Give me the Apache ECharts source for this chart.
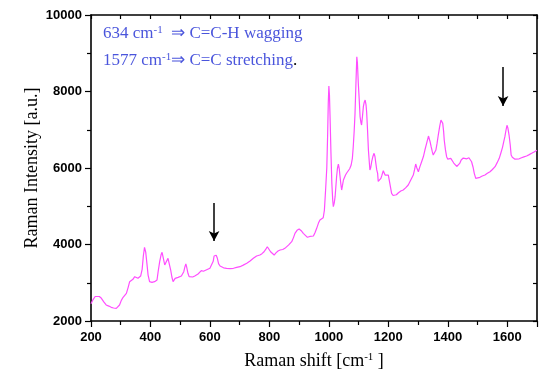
<!DOCTYPE html>
<html>
<head>
<meta charset="utf-8">
<script src="https://cdn.jsdelivr.net/npm/echarts@6/dist/echarts.min.js"></script>
<style>
  html, body { margin: 0; padding: 0; background: #fff; }
  #chart { width: 553px; height: 381px; }
</style>
</head>
<body>
<div id="chart"></div>
<script>
// Raman spectrum: shift (cm-1) and measured intensity (a.u.)
var ramanShift = [
  200, 207, 214, 220, 228, 235, 243, 251, 260, 268, 276, 285, 291, 296, 302, 308, 314, 319, 325, 330,
  336, 341, 347, 352, 358, 363, 367, 372, 376, 380, 384, 388, 392, 397, 405, 414, 422, 426, 431, 436,
  439, 443, 448, 454, 459, 463, 468, 472, 476, 483, 488, 493, 499, 504, 508, 512, 516, 519, 522, 526,
  530, 535, 542, 549, 555, 560, 566, 571, 578, 584, 589, 593, 600, 606, 611, 614, 617, 621, 625, 629,
  634, 640, 646, 656, 662, 668, 679, 685, 690, 701, 712, 724, 735, 746, 757, 768, 775, 782, 788, 793,
  798, 804, 810, 816, 822, 829, 836, 845, 852, 858, 865, 870, 875, 881, 886, 893, 900, 907, 914, 921,
  928, 936, 942, 948, 954, 959, 965, 970, 976, 981, 985, 989, 993, 996, 998, 1000, 1002, 1004, 1007, 1010,
  1013, 1015, 1018, 1021, 1026, 1029, 1032, 1035, 1037, 1040, 1043, 1046, 1049, 1056, 1060, 1065, 1070, 1075, 1079, 1082,
  1085, 1088, 1091, 1094, 1096, 1099, 1102, 1105, 1108, 1110, 1113, 1116, 1119, 1122, 1125, 1127, 1130, 1133, 1136, 1138,
  1141, 1144, 1148, 1152, 1155, 1158, 1161, 1164, 1166, 1169, 1172, 1175, 1178, 1181, 1183, 1186, 1189, 1191, 1195, 1200,
  1205, 1211, 1216, 1220, 1227, 1234, 1242, 1250, 1258, 1267, 1275, 1284, 1288, 1292, 1296, 1301, 1306, 1312, 1318, 1323,
  1329, 1335, 1340, 1344, 1348, 1351, 1356, 1360, 1364, 1368, 1373, 1377, 1380, 1383, 1386, 1388, 1392, 1396, 1400, 1404,
  1410, 1415, 1420, 1424, 1430, 1435, 1440, 1445, 1452, 1458, 1464, 1471, 1476, 1480, 1485, 1489, 1494, 1500, 1508, 1516,
  1525, 1533, 1542, 1550, 1559, 1566, 1573, 1578, 1584, 1588, 1592, 1596, 1599, 1602, 1606, 1610, 1613, 1617, 1620, 1626,
  1632, 1640, 1648, 1656, 1665, 1674, 1682, 1690, 1697, 1700
];
var intensity = [
  2450, 2560, 2640, 2680, 2640, 2593, 2500, 2420, 2390, 2358, 2340, 2332, 2360, 2418, 2540, 2620, 2670, 2724, 2880, 3028,
  3070, 3090, 3158, 3130, 3116, 3150, 3176, 3350, 3700, 3926, 3800, 3508, 3200, 3028, 3010, 3028, 3072, 3300, 3550, 3740,
  3796, 3650, 3464, 3560, 3639, 3500, 3333, 3150, 3028, 3116, 3120, 3142, 3150, 3176, 3220, 3289, 3420, 3490, 3400, 3247,
  3160, 3142, 3150, 3176, 3200, 3229, 3280, 3315, 3300, 3289, 3340, 3330, 3380, 3420, 3560, 3700, 3743, 3720, 3639, 3500,
  3438, 3400, 3390, 3378, 3400, 3370, 3378, 3350, 3400, 3420, 3460, 3508, 3570, 3639, 3700, 3725, 3760, 3811, 3880, 3942,
  3900, 3811, 3760, 3725, 3780, 3830, 3856, 3870, 3900, 3926, 3990, 4020, 4073, 4180, 4292, 4370, 4405, 4360, 4292, 4240,
  4188, 4210, 4215, 4222, 4320, 4423, 4560, 4640, 4660, 4700, 4900, 5424, 6000, 6907, 7700, 8143, 7900, 7340, 6400, 5600,
  5150, 4988, 5080, 5250, 5772, 6000, 6104, 5980, 5816, 5600, 5424, 5550, 5686, 5816, 5870, 5903, 5980, 6078, 6250, 6556,
  6950, 7429, 8200, 8909, 8750, 8213, 7800, 7340, 7180, 7123, 7350, 7602, 7720, 7777, 7650, 7471, 7000, 6470, 6150, 5947,
  6020, 6164, 6300, 6384, 6300, 6122, 5950, 5860, 5650, 5599, 5680, 5730, 5800, 5843, 5929, 5903, 5816, 5772, 5830, 5816,
  5600, 5338, 5280, 5250, 5300, 5354, 5400, 5424, 5480, 5555, 5680, 5816, 5950, 6104, 6000, 5903, 6030, 6164, 6300, 6470,
  6650, 6836, 6700, 6556, 6420, 6339, 6380, 6470, 6650, 6862, 7100, 7254, 7230, 7167, 6950, 6731, 6480, 6295, 6230, 6208,
  6250, 6208, 6130, 6078, 6040, 6020, 6120, 6208, 6260, 6208, 6240, 6269, 6230, 6164, 6020, 5860, 5730, 5740, 5756, 5790,
  5816, 5860, 5903, 5960, 6034, 6140, 6252, 6380, 6540, 6680, 6818, 7000, 7116, 7050, 6862, 6600, 6339, 6280, 6252, 6230,
  6208, 6240, 6269, 6290, 6313, 6350, 6384, 6420, 6452, 6460
];

// Axis ranges and tick spacing
var xRange = [200, 1700];
var xStep = 200;
var yRange = [2000, 10000];
var yStep = 2000;

// Down arrows marking the assigned bands: [shift, arrow top, arrow tip]
var bandArrows = [
  [614, 5085, 4091],
  [1586, 8640, 7620]
];

var data = ramanShift.map(function (x, i) { return [x, intensity[i]]; });

var axisColor = '#000';
var serif = 'Liberation Serif';
var tickFont = {
  fontFamily: 'Liberation Sans', fontSize: 13, fontWeight: 'bold', color: '#000',
  formatter: function (v) { return String(v); }
};

function frameAxis(extra) {
  var base = {
    axisLine: { show: true, onZero: false, lineStyle: { color: axisColor, width: 1.6 } },
    axisTick: { show: true, length: 6, lineStyle: { color: axisColor, width: 1.2 } },
    minorTick: { show: true, splitNumber: 2, length: 4, lineStyle: { color: axisColor, width: 1.2 } },
    splitLine: { show: false },
    minorSplitLine: { show: false }
  };
  for (var k in extra) base[k] = extra[k];
  return base;
}

var chart = echarts.init(document.getElementById('chart'), null, { renderer: 'canvas' });
chart.setOption({
  animation: false,
  backgroundColor: '#fff',
  grid: { left: 91, right: 16, top: 15, bottom: 60, containLabel: false },
  xAxis: [
    frameAxis({
      type: 'value', position: 'bottom', min: xRange[0], max: xRange[1], interval: xStep,
      axisLabel: Object.assign({ margin: 10, showMaxLabel: false }, tickFont),
      name: 'Raman shift [cm{sup|-1} ]',
      nameLocation: 'middle', nameGap: 31, nameMoveOverlap: false,
      nameTextStyle: {
        fontFamily: serif, fontSize: 18, color: '#000',
        rich: { sup: { fontFamily: serif, fontSize: 11, color: '#000', verticalAlign: 'top', lineHeight: 18 } }
      }
    }),
    frameAxis({
      type: 'value', position: 'top', min: xRange[0], max: xRange[1], interval: xStep,
      axisTick: { show: true, inside: true, length: 4, lineStyle: { color: axisColor, width: 1.2 } },
      minorTick: { show: true, splitNumber: 2, length: 4, lineStyle: { color: axisColor, width: 1.2 } },
      axisLabel: { show: false }
    })
  ],
  yAxis: [
    frameAxis({
      type: 'value', position: 'left', min: yRange[0], max: yRange[1], interval: yStep,
      axisLabel: Object.assign({ margin: 9 }, tickFont),
      name: 'Raman Intensity [a.u.]',
      nameLocation: 'middle', nameGap: 50, nameMoveOverlap: false,
      nameTextStyle: { fontFamily: serif, fontSize: 18, color: '#000' }
    }),
    frameAxis({
      type: 'value', position: 'right', min: yRange[0], max: yRange[1], interval: yStep,
      axisTick: { show: true, inside: true, length: 4, lineStyle: { color: axisColor, width: 1.2 } },
      minorTick: { show: true, splitNumber: 2, length: 4, lineStyle: { color: axisColor, width: 1.2 } },
      axisLabel: { show: false }
    })
  ],
  series: [{
    type: 'line',
    data: data,
    showSymbol: false,
    symbol: 'none',
    lineStyle: { color: '#ff4dff', width: 1.2 },
    silent: true,
    markLine: {
      silent: true,
      symbol: ['none', 'arrow'],
      symbolSize: [8, 10],
      label: { show: false },
      lineStyle: { color: '#000', width: 1.5, type: 'solid' },
      emphasis: { disabled: true },
      data: bandArrows.map(function (a) {
        return [{ coord: [a[0], a[1]] }, { coord: [a[0], a[2]] }];
      })
    }
  }],
  graphic: [
    {
      type: 'text', left: 103, top: 25,
      style: {
        text: '634 cm{sup|-1}  ⇒ C=C-H wagging',
        fill: '#4a55dc', font: '17px "Liberation Serif"',
        rich: { sup: { fill: '#4a55dc', fontFamily: serif, fontSize: 11, verticalAlign: 'top', lineHeight: 17 } }
      }
    },
    {
      type: 'text', left: 103, top: 52,
      style: {
        text: '1577 cm{sup|-1}⇒ C=C stretching{dot|.}',
        fill: '#4a55dc', font: '17px "Liberation Serif"',
        rich: {
          sup: { fill: '#4a55dc', fontFamily: serif, fontSize: 11, verticalAlign: 'top', lineHeight: 17 },
          dot: { fill: '#000', fontFamily: serif, fontSize: 17 }
        }
      }
    }
  ]
});
</script>
</body>
</html>
